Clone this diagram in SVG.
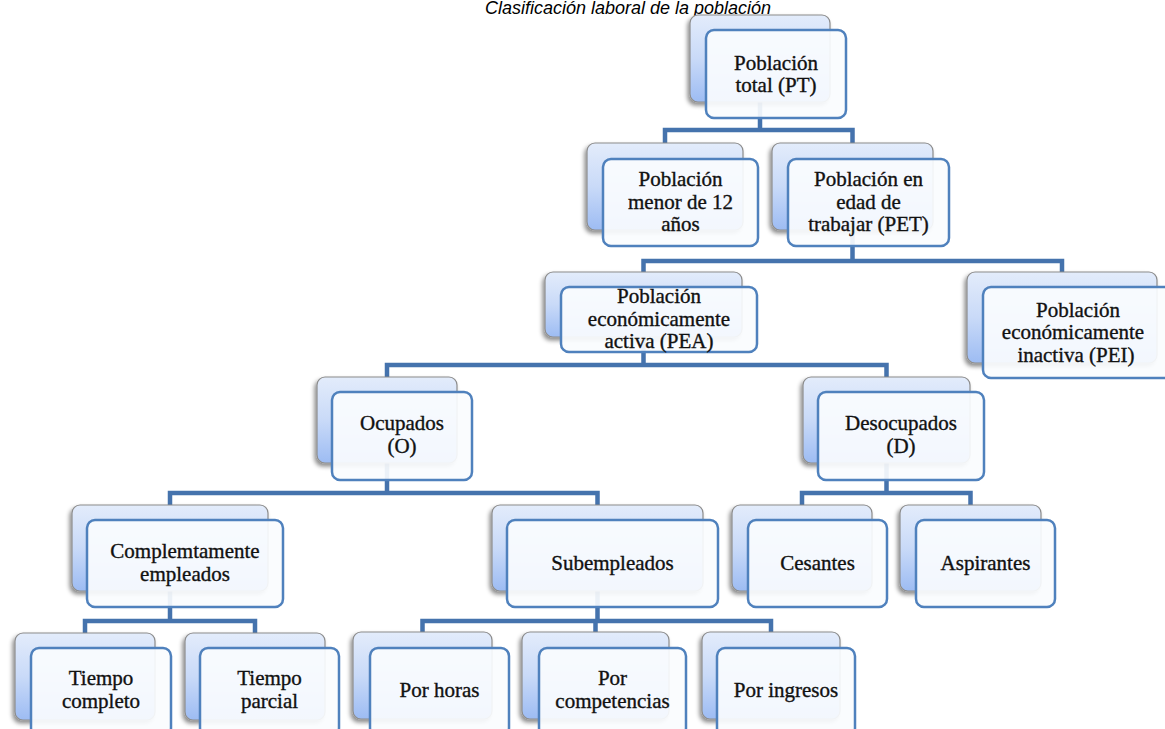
<svg xmlns="http://www.w3.org/2000/svg" width="1165" height="729" viewBox="0 0 1165 729">
<defs>
<linearGradient id="gBack" x1="0" y1="0" x2="0" y2="1">
<stop offset="0" stop-color="#e3ecfb"/>
<stop offset="0.5" stop-color="#c9daf8"/>
<stop offset="1" stop-color="#9dbcf3"/>
</linearGradient>
<filter id="sh" x="-20%" y="-20%" width="140%" height="150%">
<feDropShadow dx="-2" dy="3" stdDeviation="2" flood-color="#000" flood-opacity="0.45"/>
</filter>
<style>
.back{fill:url(#gBack);stroke:#8c8c8c;stroke-width:1.2;filter:url(#sh)}
.front{fill:#fafcfe;fill-opacity:0.92;stroke:#4f81bd;stroke-width:2.5}
.lbl{font-family:"Liberation Serif","DejaVu Serif",serif;font-size:21px;fill:#111;stroke:#111;stroke-width:0.35;text-anchor:middle}
.con{fill:none;stroke:#4573ad;stroke-width:4.5;stroke-linejoin:miter}
.title{font-family:"Liberation Sans",Arial,sans-serif;font-style:italic;font-size:18px;fill:#000;text-anchor:middle}
</style>
</defs>
<rect width="1165" height="729" fill="#fff"/>
<text class="title" x="628" y="14">Clasificación laboral de la población</text>

<g id="connectors">
<path class="con" d="M760 102V130M665 143V130H852.5V143"/>
<path class="con" d="M852.5 230V261M643.5 272V261H1062V272"/>
<path class="con" d="M643.5 337V365M387 377V365H886.5V377"/>
<path class="con" d="M387 463V493M170 505V493H597.5V505"/>
<path class="con" d="M886.5 463V493M802 505V493H970.5V505"/>
<path class="con" d="M170 591V621M85 633V621H255V633"/>
<path class="con" d="M597.5 591V621M422.5 632V621H771V632M595.5 621V632"/>
</g>

<g id="node-pt">
<rect class="back" x="690" y="15" width="140" height="87" rx="8"/>
<rect class="front" x="706" y="30" width="140" height="88" rx="8"/>
<text class="lbl" x="776" y="69.5">Población</text>
<text class="lbl" x="776" y="92">total (PT)</text>
</g>

<g id="node-menor12">
<rect class="back" x="587" y="143" width="156" height="87" rx="8"/>
<rect class="front" x="603" y="159" width="155" height="87" rx="8"/>
<text class="lbl" x="680.5" y="186">Población</text>
<text class="lbl" x="680.5" y="208.5">menor de 12</text>
<text class="lbl" x="680.5" y="231">años</text>
</g>

<g id="node-pet">
<rect class="back" x="772" y="143" width="161" height="87" rx="8"/>
<rect class="front" x="788" y="159" width="161" height="87" rx="8"/>
<text class="lbl" x="868.5" y="186">Población en</text>
<text class="lbl" x="868.5" y="208.5">edad de</text>
<text class="lbl" x="868.5" y="231">trabajar (PET)</text>
</g>

<g id="node-pea">
<rect class="back" x="545" y="272" width="197" height="65" rx="8"/>
<rect class="front" x="561" y="287" width="196" height="65" rx="8"/>
<text class="lbl" x="659" y="303">Población</text>
<text class="lbl" x="659" y="325.5">económicamente</text>
<text class="lbl" x="659" y="348">activa (PEA)</text>
</g>

<g id="node-pei">
<rect class="back" x="967" y="272" width="190" height="91" rx="8"/>
<rect class="front" x="983" y="287" width="190" height="91" rx="8"/>
<text class="lbl" x="1078" y="316.5">Población</text>
<text class="lbl" x="1073" y="339">económicamente</text>
<text class="lbl" x="1076" y="361.5">inactiva (PEI)</text>
</g>

<g id="node-ocupados">
<rect class="back" x="317" y="377" width="140" height="86" rx="8"/>
<rect class="front" x="332" y="392" width="140" height="88" rx="8"/>
<text class="lbl" x="402" y="430">Ocupados</text>
<text class="lbl" x="402" y="452.5">(O)</text>
</g>

<g id="node-desocupados">
<rect class="back" x="803" y="377" width="167" height="86" rx="8"/>
<rect class="front" x="818" y="392" width="166" height="88" rx="8"/>
<text class="lbl" x="901" y="430">Desocupados</text>
<text class="lbl" x="901" y="452.5">(D)</text>
</g>

<g id="node-completamente">
<rect class="back" x="72" y="505" width="196" height="86" rx="8"/>
<rect class="front" x="87" y="520" width="196" height="87" rx="8"/>
<text class="lbl" x="185" y="558">Complemtamente</text>
<text class="lbl" x="185" y="580.5">empleados</text>
</g>

<g id="node-subempleados">
<rect class="back" x="492" y="505" width="211" height="86" rx="8"/>
<rect class="front" x="507" y="520" width="211" height="87" rx="8"/>
<text class="lbl" x="612.5" y="570">Subempleados</text>
</g>

<g id="node-cesantes">
<rect class="back" x="732" y="505" width="140" height="86" rx="8"/>
<rect class="front" x="748" y="520" width="139" height="87" rx="8"/>
<text class="lbl" x="817.5" y="570">Cesantes</text>
</g>

<g id="node-aspirantes">
<rect class="back" x="900" y="505" width="141" height="86" rx="8"/>
<rect class="front" x="916" y="520" width="139" height="87" rx="8"/>
<text class="lbl" x="985.5" y="570">Aspirantes</text>
</g>

<g id="node-tiempo-completo">
<rect class="back" x="15" y="633" width="140" height="87" rx="8"/>
<rect class="front" x="31" y="648" width="140" height="88" rx="8"/>
<text class="lbl" x="101" y="685">Tiempo</text>
<text class="lbl" x="101" y="707.5">completo</text>
</g>

<g id="node-tiempo-parcial">
<rect class="back" x="185" y="633" width="140" height="87" rx="8"/>
<rect class="front" x="200" y="648" width="139" height="88" rx="8"/>
<text class="lbl" x="269.5" y="685">Tiempo</text>
<text class="lbl" x="269.5" y="707.5">parcial</text>
</g>

<g id="node-por-horas">
<rect class="back" x="353" y="632" width="139" height="87" rx="8"/>
<rect class="front" x="370" y="648" width="139" height="88" rx="8"/>
<text class="lbl" x="439.5" y="697">Por horas</text>
</g>

<g id="node-por-competencias">
<rect class="back" x="522" y="632" width="147" height="87" rx="8"/>
<rect class="front" x="539" y="648" width="147" height="88" rx="8"/>
<text class="lbl" x="612.5" y="685">Por</text>
<text class="lbl" x="612.5" y="707.5">competencias</text>
</g>

<g id="node-por-ingresos">
<rect class="back" x="702" y="632" width="138" height="87" rx="8"/>
<rect class="front" x="717" y="648" width="138" height="88" rx="8"/>
<text class="lbl" x="786" y="697">Por ingresos</text>
</g>
</svg>
